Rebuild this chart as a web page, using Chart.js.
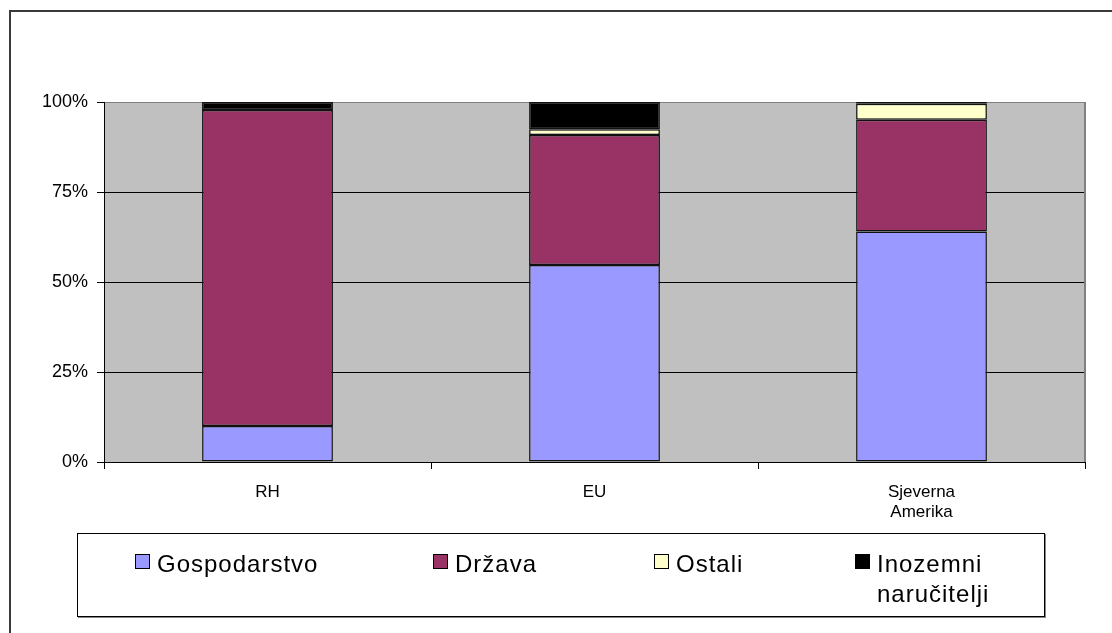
<!DOCTYPE html>
<html>
<head>
<meta charset="utf-8">
<script src="https://cdn.jsdelivr.net/npm/chart.js@4/dist/chart.umd.min.js"></script>
<style>
  html, body { margin: 0; padding: 0; background: #fff; }
  #wrap { position: relative; width: 1112px; height: 633px; overflow: hidden; }
  #legend {
    position: absolute; left: 77px; top: 533px; width: 966px; height: 82px;
    border: 1px solid #000; box-shadow: 1px 1px 0 #888; background: #fff;
    font-family: "Liberation Sans", Arial, sans-serif; font-size: 24px; color: #000;
  }
  .item { position: absolute; top: 18px; line-height: 30px; letter-spacing: 1px; }
  .box { position: absolute; left: 0; top: 2px; width: 13px; height: 13px; border: 1px solid #000; }
  .item span.txt { position: absolute; left: 22px; top: -3px; white-space: nowrap; }
</style>
</head>
<body>
<div id="wrap">
  <canvas id="fundingChart" width="1112" height="633"></canvas>
  <div id="legend"></div>
</div>
<script>
// udio izvora financiranja po regijama (u %)
const categories = ['RH', 'EU', ['Sjeverna', 'Amerika']];
const gospodarstvo = [10, 54.7, 64];
const drzava = [87.8, 36.1, 31.1];
const ostali = [0, 1.6, 4.4];
const inozemni = [2.2, 7.6, 0.5];
const yTicks = [0, 25, 50, 75, 100];

const seriesNames = ['Gospodarstvo', 'Država', 'Ostali', ['Inozemni', 'naručitelji']];
const seriesColors = ['#9999FF', '#993366', '#FFFFCC', '#000000'];
const seriesValues = [gospodarstvo, drzava, ostali, inozemni];

// plot area background + outer frame
const plotBg = {
    id: 'plotBg',
    beforeDraw(chart) {
        const { ctx, chartArea: a } = chart;
        ctx.save();
        ctx.fillStyle = '#C0C0C0';
        ctx.fillRect(a.left, a.top, a.right - a.left, a.bottom - a.top);
        ctx.restore();
    },
    beforeDatasetsDraw(chart) {
        const { ctx, chartArea: a } = chart;
        ctx.save();
        ctx.strokeStyle = '#808080';
        ctx.lineWidth = 2;
        ctx.beginPath();
        ctx.moveTo(a.right, a.top);
        ctx.lineTo(a.right, a.bottom);
        ctx.stroke();
        ctx.restore();
    },
    afterDraw(chart) {
        const ctx = chart.ctx;
        ctx.save();
        ctx.strokeStyle = '#3a3a3a';
        ctx.lineWidth = 2;
        ctx.strokeRect(10, 11, 1300, 800);
        ctx.restore();
    }
};

const chartElem = document.getElementById('fundingChart');
new Chart(chartElem.getContext('2d'), {
    type: 'bar',
    data: {
        labels: categories,
        datasets: seriesValues.map((vals, i) => ({
            label: Array.isArray(seriesNames[i]) ? seriesNames[i].join(' ') : seriesNames[i],
            data: vals,
            backgroundColor: seriesColors[i],
            borderColor: '#111',
            borderWidth: 1.5,
            borderSkipped: false,
            barPercentage: 0.4,
            categoryPercentage: 1
        }))
    },
    options: {
        responsive: false,
        animation: false,
        layout: { padding: { left: 10, right: 27, top: 102, bottom: 111 } },
        plugins: {
            legend: { display: false },
            tooltip: { enabled: false }
        },
        scales: {
            x: {
                stacked: true,
                afterFit(scale) { scale.height = 60; },
                border: { display: true, color: '#000', width: 1 },
                grid: { drawOnChartArea: false, drawTicks: true, tickLength: 7, color: '#000', offset: true },
                ticks: {
                    color: '#000', padding: 13, maxRotation: 0,
                    font: { family: 'Liberation Sans', size: 17 }
                }
            },
            y: {
                stacked: true,
                min: 0, max: 100,
                afterFit(scale) { scale.width = 94; },
                afterBuildTicks(scale) { scale.ticks = yTicks.map(v => ({ value: v })); },
                border: { display: true, color: '#000', width: 1 },
                grid: {
                    color: c => (c.tick && c.tick.value === 100) ? '#808080' : '#000',
                    tickColor: '#000',
                    tickLength: 7,
                    lineWidth: 1
                },
                ticks: {
                    color: '#000', padding: 9,
                    font: { family: 'Liberation Sans', size: 18 },
                    callback: v => v + '%'
                }
            }
        }
    },
    plugins: [plotBg]
});

// legenda
const legendPos = [135, 433, 654, 855];
const legend = document.getElementById('legend');
seriesNames.forEach((name, i) => {
    const item = document.createElement('div');
    item.className = 'item';
    item.style.left = (legendPos[i] - 78) + 'px';
    const box = document.createElement('div');
    box.className = 'box';
    box.style.background = seriesColors[i];
    const txt = document.createElement('span');
    txt.className = 'txt';
    txt.innerHTML = Array.isArray(name) ? name.join('<br>') : name;
    item.appendChild(box);
    item.appendChild(txt);
    legend.appendChild(item);
});
</script>
</body>
</html>
